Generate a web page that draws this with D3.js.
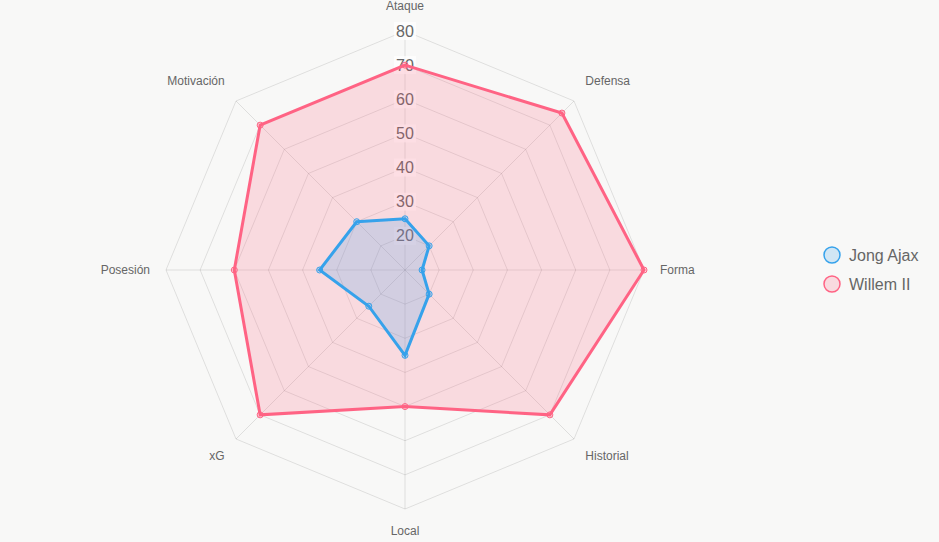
<!DOCTYPE html>
<html>
<head>
<meta charset="utf-8">
<script src="https://cdn.jsdelivr.net/npm/d3@7"></script>
<style>
  html, body { margin: 0; padding: 0; background: #f8f8f7; }
  svg { display: block; font-family: Arial, "Liberation Sans", sans-serif; }
</style>
</head>
<body>
<svg id="chart" width="939" height="542"></svg>
<script>
// axes, clockwise from the top
const axes = ['Ataque', 'Defensa', 'Forma', 'Historial', 'Local', 'xG', 'Posesión', 'Motivación'];
const ticks = [20, 30, 40, 50, 60, 70, 80];
const seriesNames = ['Jong Ajax', 'Willem II'];
const jongAjax = [25, 20, 15, 20, 35, 25, 35, 30];
const willemII = [70, 75, 80, 70, 50, 70, 60, 70];
const colors = ['54,162,235', '255,99,132'];

const series = [jongAjax, willemII];

const svg = d3.select('#chart');
const cx = 405, cy = 270, R = 239;

const r = d3.scaleLinear().domain([10, 80]).range([0, R]);
const angle = d3.scalePoint().domain(axes).range([0, 2 * Math.PI * (axes.length - 1) / axes.length]);

const px = (a, rad) => cx + rad * Math.sin(angle(a));
const py = (a, rad) => cy - rad * Math.cos(angle(a));

const g = svg.append('g');

// rings
g.selectAll('polygon.ring')
  .data(ticks)
  .join('polygon')
  .attr('class', 'ring')
  .attr('points', t => axes.map(a => [px(a, r(t)), py(a, r(t))].join(',')).join(' '))
  .attr('fill', 'none')
  .attr('stroke', 'rgba(0,0,0,0.1)')
  .attr('stroke-width', 1);

// spokes
g.selectAll('line.spoke')
  .data(axes)
  .join('line')
  .attr('class', 'spoke')
  .attr('x1', cx).attr('y1', cy)
  .attr('x2', a => px(a, R)).attr('y2', a => py(a, R))
  .attr('stroke', 'rgba(0,0,0,0.1)')
  .attr('stroke-width', 1);

// point labels
const lab = 16;
g.selectAll('text.axis')
  .data(axes)
  .join('text')
  .attr('class', 'axis')
  .attr('x', a => px(a, R + lab))
  .attr('y', a => {
    const c = Math.cos(angle(a));
    const y = py(a, R + lab);
    if (Math.abs(c) < 0.05) return y + 4;
    return c > 0 ? y - 5 : y + 10;
  })
  .attr('text-anchor', a => {
    const s = Math.sin(angle(a));
    return s > 0.05 ? 'start' : (s < -0.05 ? 'end' : 'middle');
  })
  .attr('font-size', 12)
  .attr('fill', '#666')
  .text(d => d);

// tick labels with backdrop (under the datasets)
const tg = g.append('g');
ticks.forEach(t => {
  const y = cy - r(t);
  const txt = tg.append('text')
    .attr('x', cx).attr('y', y + 5.5)
    .attr('text-anchor', 'middle')
    .attr('font-size', 16)
    .attr('fill', '#666')
    .text(t);
  const b = txt.node().getBBox();
  tg.insert('rect', () => txt.node())
    .attr('x', b.x - 2).attr('y', y - 9)
    .attr('width', b.width + 4).attr('height', 18)
    .attr('fill', 'rgba(255,255,255,0.75)');
});

// datasets, last one drawn first
const order = [1, 0];
order.forEach(i => {
  const vals = series[i];
  const col = colors[i];
  const pts = axes.map((a, j) => [px(a, r(vals[j])), py(a, r(vals[j]))]);
  const ds = g.append('g');
  ds.append('path')
    .attr('d', d3.line().curve(d3.curveLinearClosed)(pts))
    .attr('fill', `rgba(${col},0.2)`)
    .attr('stroke', `rgb(${col})`)
    .attr('stroke-width', 3)
    .attr('stroke-linejoin', 'miter');
  ds.selectAll('circle')
    .data(pts)
    .join('circle')
    .attr('cx', d => d[0]).attr('cy', d => d[1])
    .attr('r', 3)
    .attr('fill', `rgba(${col},0.2)`)
    .attr('stroke', `rgb(${col})`)
    .attr('stroke-width', 1);
});

// legend
const lg = svg.append('g').attr('transform', 'translate(832,255)');
seriesNames.forEach((n, i) => {
  const row = lg.append('g').attr('transform', `translate(0,${i * 29})`);
  row.append('circle')
    .attr('r', 8)
    .attr('fill', `rgba(${colors[i]},0.2)`)
    .attr('stroke', `rgb(${colors[i]})`)
    .attr('stroke-width', 1.5);
  row.append('text')
    .attr('x', 17).attr('y', 5.5)
    .attr('font-size', 16)
    .attr('fill', '#666')
    .text(n);
});
</script>
</body>
</html>
